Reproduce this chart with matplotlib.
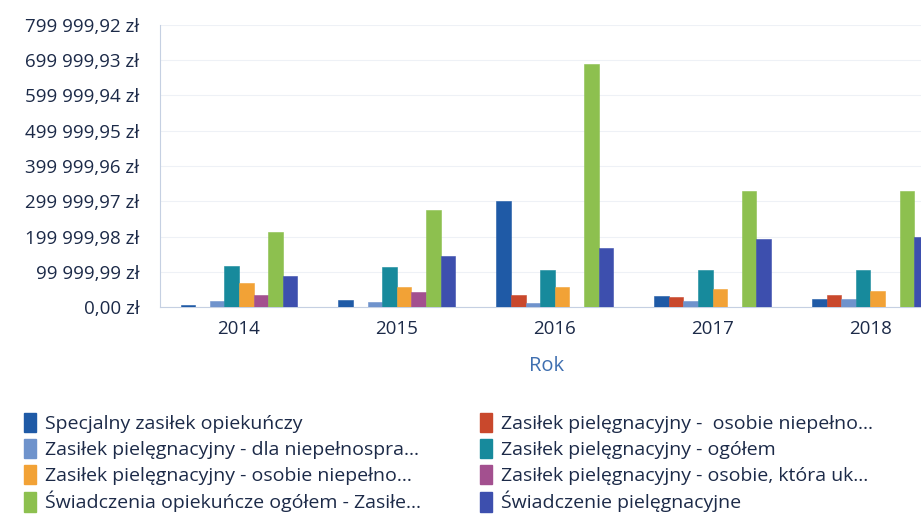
import numpy as np
import matplotlib.pyplot as plt
from matplotlib.patches import Patch

plt.rcParams['font.family'] = ['Open Sans', 'DejaVu Sans']

years = ['2014', '2015', '2016', '2017', '2018']

series_names = [
    'Specjalny zasiłek opiekuńczy',
    'Zasiłek pielęgnacyjny -  osobie niepełno...',
    'Zasiłek pielęgnacyjny - dla niepełnospra...',
    'Zasiłek pielęgnacyjny - ogółem',
    'Zasiłek pielęgnacyjny - osobie niepełno...',
    'Zasiłek pielęgnacyjny - osobie, która uk...',
    'Świadczenia opiekuńcze ogółem - Zasiłe...',
    'Świadczenie pielęgnacyjne',
]

specjalny = [6500, 19000, 301000, 30000, 23000]
osobie_niepelno_a = [0, 0, 33000, 28000, 34000]
dla_niepelnospr = [17000, 13000, 11000, 16000, 23000]
ogolem = [117000, 113000, 105000, 105000, 105000]
osobie_niepelno_b = [67000, 58000, 56000, 50000, 46000]
osobie_ktora = [34000, 42000, 0, 0, 0]
swiadczenia_ogolem = [214000, 276000, 689000, 328000, 328000]
swiadczenie_piel = [89000, 145000, 166000, 193000, 199000]

values = [specjalny, osobie_niepelno_a, dla_niepelnospr, ogolem,
          osobie_niepelno_b, osobie_ktora, swiadczenia_ogolem,
          swiadczenie_piel]

colors = ['#1f5aa6', '#c9482c', '#6f93cc', '#178a9c',
          '#f2a236', '#a3508f', '#8dc04f', '#3d4fae']

tick_step = 99999.99
n_ticks = 9

text_color = '#1c2a48'

fig = plt.figure(figsize=(9.21, 5.18), dpi=100)
ax = fig.add_axes([160 / 921, 1 - 307 / 518, 761 / 921, 282 / 518])

x = np.arange(len(years))
width = 0.0925
for i, (vals, col) in enumerate(zip(values, colors)):
    offs = (i - 3.5) * width
    ax.bar(x + offs, vals, width=width, color=col,
           edgecolor=col, linewidth=0.4, zorder=3)

ax.set_xlim(-0.5, 4.32)
ax.set_ylim(0, tick_step * (n_ticks - 1))

yticks = [tick_step * k for k in range(n_ticks)]
ax.set_yticks(yticks)


def fmt_pln(v):
    s = f'{v:,.2f}'
    s = s.replace(',', ' ').replace('.', ',')
    return s + ' zł'


ax.set_yticklabels([fmt_pln(v) for v in yticks])
ax.set_xticks(x)
ax.set_xticklabels(years)
ax.tick_params(axis='both', length=0, labelsize=13.5, colors=text_color)
ax.tick_params(axis='y', pad=15)
ax.tick_params(axis='x', pad=9)

ax.grid(axis='y', color='#eef1f6', linewidth=0.8, zorder=0)
for side in ['top', 'right']:
    ax.spines[side].set_visible(False)
ax.spines['left'].set_color('#c5d0e2')
ax.spines['bottom'].set_color('#c5d0e2')
ax.spines['left'].set_linewidth(0.8)
ax.spines['bottom'].set_linewidth(0.8)

fig.text(547 / 921, 1 - 366 / 518, 'Rok', ha='center', va='center',
         fontsize=14.5, color='#3f6fb0')

handles = [Patch(facecolor=c, edgecolor=c) for c in colors]
col_x = [16 / 921, 472 / 921]
for c in range(2):
    idx = [c, c + 2, c + 4, c + 6]
    leg = fig.legend([handles[i] for i in idx], [series_names[i] for i in idx],
                     loc='upper left', bbox_to_anchor=(col_x[c], 1 - 405 / 518),
                     frameon=False, fontsize=14, handlelength=0.65,
                     handleheight=1.15, handletextpad=0.45, labelspacing=0.3,
                     borderaxespad=0)
    for t in leg.get_texts():
        t.set_color(text_color)

fig.savefig('out.png', dpi=100)
